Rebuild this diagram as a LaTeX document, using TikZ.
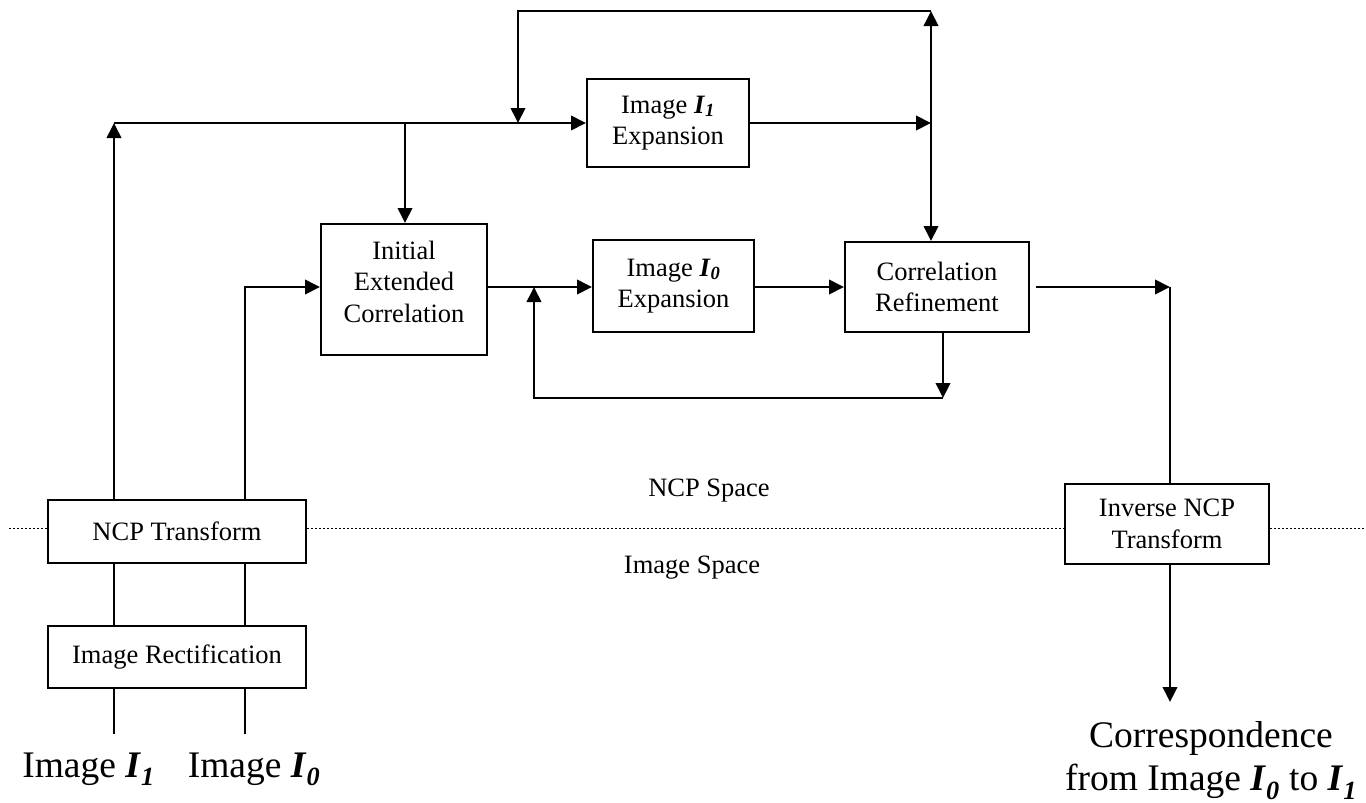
\documentclass[tikz,border=0pt]{standalone}
\usepackage{fontspec}
\setmainfont{Liberation Serif}
\usetikzlibrary{arrows.meta}
\newcommand{\Isub}[1]{\textbf{\textit{I}}\textsubscript{\textbf{\textit{#1}}}}

\begin{document}
\begin{tikzpicture}[x=1pt, y=-1pt, line width=2pt,
  blk/.style={draw, rectangle, align=center, inner sep=0pt,
              font=\fontsize{26.5}{31.5}\selectfont},
  lbl/.style={inner sep=0pt, align=center, font=\fontsize{26.5}{31.5}\selectfont},
  big/.style={inner sep=0pt, align=center, font=\fontsize{37.5}{43}\selectfont},
  tip/.tip={Triangle[length=15pt, width=14.5pt]},
  arr/.style={-tip},
  dbl/.style={tip-tip},
  dotline/.style={line width=1.4pt, dash pattern=on 2pt off 2pt}
]
\useasboundingbox (0,0) rectangle (1366,803);

% processing blocks
\node[blk, minimum width=162pt, minimum height=88pt]  (i1exp) at (668,123)   {Image \Isub{1}\\Expansion};
\node[blk, minimum width=161pt, minimum height=92pt]  (i0exp) at (673.5,286) {Image \Isub{0}\\Expansion};
\node[blk, minimum width=166pt, minimum height=131pt] (init)  at (404,289.5) {};
\node[lbl] (initT) at (404,281.5) {Initial\\Extended\\Correlation};
\node[blk, minimum width=184pt, minimum height=90pt]  (cr)    at (937,287)   {Correlation\\Refinement};
\node[blk, minimum width=258pt, minimum height=63pt]  (ncp)   at (177,531.5) {NCP Transform};
\node[blk, minimum width=258pt, minimum height=62pt]  (ir)    at (177,657)   {Image Rectification};
\node[blk, minimum width=204pt, minimum height=80pt]  (inv)   at (1167,524)  {Inverse NCP\\Transform};

% space labels and inputs / output
\node[lbl] (ncps) at (709,491) {NCP Space};
\node[lbl] (imgs) at (692,568) {Image Space};
\node[big, anchor=base] (inI1) at (88.5,777) {Image \Isub{1}};
\node[big, anchor=base] (inI0) at (254,777)  {Image \Isub{0}};
\node[big] (corr) at (1211,761) {Correspondence\\from Image \Isub{0} to \Isub{1}};

% routing points
\coordinate (jL)   at (114,123);
\coordinate (jD)   at (405,123);
\coordinate (jT)   at (518,123);
\coordinate (jR)   at (931,123);
\coordinate (topL) at (518,11);
\coordinate (topR) at (931,11);
\coordinate (j0)   at (245,287);
\coordinate (jF)   at (534,287);
\coordinate (fbL)  at (534,398);
\coordinate (fbR)  at (943,398);
\coordinate (jO)   at (1170,287);
\coordinate (out)  at (1170,702);
\coordinate (srcL) at (114,734);
\coordinate (src0) at (245,734);
\coordinate (dl0)  at (9,528.5);
\coordinate (dl1)  at (1366,528.5);

% boundary between the two spaces
\draw[dotline] (dl0) -- (ncp.west |- dl0);
\draw[dotline] (ncp.east |- dl0) -- (inv.west |- dl0);
\draw[dotline] (inv.east |- dl0) -- (dl1);

% image inputs through rectification and transform
\draw (srcL) -- (ir.south -| srcL);
\draw (src0) -- (ir.south -| src0);
\draw (ir.north -| srcL) -- (ncp.south -| srcL);
\draw (ir.north -| src0) -- (ncp.south -| src0);

% image I1 path
\draw[arr] (ncp.north -| jL) -- (jL);
\draw[arr] (jL) -- (i1exp.west |- jL);
\draw[arr] (jD) -- (init.north -| jD);
\draw[arr] (i1exp.east |- jR) -- (jR);

% image I0 path
\draw[arr] (ncp.north -| j0) -- (j0) -- (init.west |- j0);
\draw[arr] (init.east |- j0) -- (i0exp.west |- j0);
\draw[arr] (i0exp.east |- j0) -- (cr.west |- j0);

% refinement loops
\draw[dbl] (cr.north -| topR) -- (topR);
\draw[arr] (topR) -- (topL) -- (jT);
\draw[arr] (cr.south -| fbR) -- (fbR);
\draw[arr] (fbR) -- (fbL) -- (jF);

% output path
\draw[arr] (cr.east |- jO) ++(6,0) -- (jO);
\draw (jO) -- (inv.north -| jO);
\draw[arr] (inv.south -| jO) -- (out);
\end{tikzpicture}
\end{document}
